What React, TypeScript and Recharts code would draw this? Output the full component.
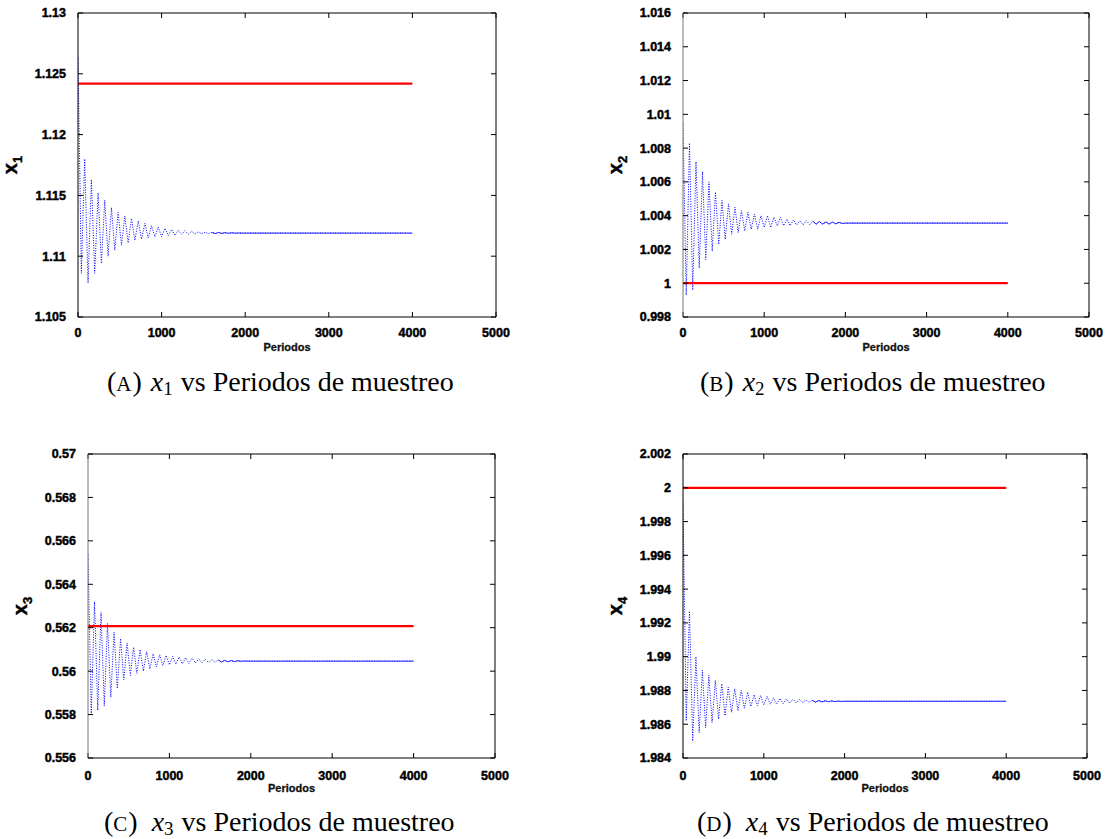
import { LineChart, Line, XAxis, YAxis, Label } from 'recharts';

const periods = [
  0, 40, 80, 120, 160, 200, 240, 280, 320, 360,
  400, 440, 480, 520, 560, 600, 640, 680, 720, 760,
  800, 840, 880, 920, 960, 1000, 1040, 1080, 1120, 1160,
  1200, 1240, 1280, 1320, 1360, 1400, 1440, 1480, 1520, 1560,
  1600, 1640, 1680, 1720, 1760, 1800, 1840, 1880, 1920, 1960,
  2000, 4000,
];

const x1Values = [
  1.1265, 1.1086, 1.118, 1.1078, 1.1163, 1.1086, 1.1152, 1.1094, 1.1146, 1.11,
  1.114, 1.1105, 1.1136, 1.1109, 1.1133, 1.1111, 1.1131, 1.1113, 1.1129, 1.1114,
  1.1127, 1.1115, 1.1125, 1.1116, 1.1124, 1.1116, 1.1123, 1.1117, 1.1122, 1.1117,
  1.11215, 1.1118, 1.1121, 1.1118, 1.11205, 1.11182, 1.112, 1.11184, 1.11198, 1.11185,
  1.11196, 1.11186, 1.11195, 1.11187, 1.11194, 1.11188, 1.11193, 1.11189, 1.11191, 1.1119,
  1.1119, 1.1119,
];

const x2Values = [
  1.0095, 0.9993, 1.0083, 0.9996, 1.0072, 1.0009, 1.0066, 1.0014, 1.006, 1.0019,
  1.0054, 1.0023, 1.0049, 1.0026, 1.0047, 1.0029, 1.0045, 1.003, 1.0043, 1.0031,
  1.0042, 1.0032, 1.0041, 1.0032, 1.004, 1.0033, 1.004, 1.0033, 1.0039, 1.0034,
  1.0039, 1.0034, 1.0038, 1.0034, 1.00375, 1.00345, 1.0037, 1.00345, 1.0037, 1.00347,
  1.00367, 1.0035, 1.00365, 1.0035, 1.00363, 1.0035, 1.00362, 1.00352, 1.0036, 1.00354,
  1.00356, 1.00356,
];

const x3Values = [
  0.5654, 0.558, 0.5632, 0.5582, 0.5627, 0.5584, 0.5622, 0.5588, 0.5618, 0.5592,
  0.5615, 0.5596, 0.5613, 0.5598, 0.5611, 0.5599, 0.561, 0.56, 0.5609, 0.5601,
  0.5608, 0.5602, 0.56075, 0.56026, 0.56072, 0.56029, 0.56068, 0.56032, 0.56065, 0.56034,
  0.56062, 0.56036, 0.5606, 0.56038, 0.56057, 0.56039, 0.56055, 0.5604, 0.56053, 0.56041,
  0.56052, 0.56042, 0.5605, 0.56043, 0.56049, 0.56044, 0.56048, 0.56045, 0.56047, 0.56046,
  0.56046, 0.56046,
];

const x4Values = [
  1.9992, 1.9862, 1.9927, 1.985, 1.99, 1.9855, 1.9892, 1.9858, 1.9889, 1.9861,
  1.9886, 1.9863, 1.9884, 1.9865, 1.9882, 1.9867, 1.9881, 1.9868, 1.988, 1.98695,
  1.9879, 1.98705, 1.98775, 1.9871, 1.9877, 1.98715, 1.98765, 1.98718, 1.98756, 1.9872,
  1.98753, 1.98722, 1.9875, 1.98725, 1.98748, 1.98727, 1.98746, 1.98728, 1.98743, 1.9873,
  1.98742, 1.98731, 1.9874, 1.98732, 1.98739, 1.98733, 1.98738, 1.98734, 1.98737, 1.98735,
  1.98736, 1.98736,
];

// reference (setpoint) levels, drawn over 0..4000
const refSpan = [0, 4000];
const x1Ref = 1.1242;
const x2Ref = 1;
const x3Ref = 0.56207;
const x4Ref = 2;

const periodTicks = [0, 1000, 2000, 3000, 4000, 5000];
const x1Ticks = [1.105, 1.11, 1.115, 1.12, 1.125, 1.13];
const x2Ticks = [0.998, 1, 1.002, 1.004, 1.006, 1.008, 1.01, 1.012, 1.014, 1.016];
const x3Ticks = [0.556, 0.558, 0.56, 0.562, 0.564, 0.566, 0.568, 0.57];
const x4Ticks = [1.984, 1.986, 1.988, 1.99, 1.992, 1.994, 1.996, 1.998, 2, 2.002];

// the oscillation has died out from here on; drawn as a plain line like the original
const settledFrom = 40;

const SANS = '"Liberation Sans", Arial, Helvetica, sans-serif';
const SERIF = '"Liberation Serif", "Times New Roman", serif';
const tickFont = {
  fill: '#000',
  stroke: '#000',
  strokeWidth: 0.45,
  fontSize: 12.5,
  fontWeight: 700,
  fontFamily: SANS,
};
const noLabel = () => <g />;

type PanelProps = {
  left: number;
  top: number;
  plotW: number;
  plotH: number;
  values: number[];
  refValue: number;
  yTicks: number[];
  idx: string;
  xTickGap: number;
  leftAxisColor: string;
};

function Panel({ left, top, plotW, plotH, values, refValue, yTicks, idx, xTickGap, leftAxisColor }: PanelProps) {
  const rows = periods.map((p, i) => ({ p, v: values[i] }));
  const tailRows = rows.slice(settledFrom);
  const refRows = refSpan.map((p) => ({ p, v: refValue }));
  const domain: [number, number] = [yTicks[0], yTicks[yTicks.length - 1]];
  const yAxisW = 78;
  const mTop = 10;
  const mRight = 22;
  const xAxisH = 40;

  return (
    <div style={{ position: 'absolute', left, top }}>
      <LineChart
        width={yAxisW + plotW + mRight}
        height={mTop + plotH + xAxisH}
        margin={{ top: mTop, right: mRight, bottom: 0, left: 0 }}
      >
        <XAxis
          xAxisId="main"
          dataKey="p"
          type="number"
          domain={[0, 5000]}
          ticks={periodTicks}
          allowDataOverflow
          tickLine={false}
          tickMargin={xTickGap}
          axisLine={{ stroke: '#000', strokeWidth: 1 }}
          tick={tickFont}
          height={xAxisH}
        >
          <Label
            content={({ viewBox }: any) => (
              <text
                x={viewBox.x + viewBox.width / 2}
                y={viewBox.y + 30}
                textAnchor="middle"
                dominantBaseline="central"
                fontFamily={SANS}
                fontWeight={700}
                fontSize={11}
                fill="#111"
                stroke="#111"
                strokeWidth={0.3}
              >
                Periodos
              </text>
            )}
          />
        </XAxis>
        <XAxis
          xAxisId="btm"
          dataKey="p"
          type="number"
          orientation="bottom"
          mirror
          domain={[0, 5000]}
          ticks={periodTicks}
          allowDataOverflow
          tick={noLabel}
          tickSize={5}
          tickLine={{ stroke: '#000', strokeWidth: 1 }}
          axisLine={false}
        />
        <XAxis
          xAxisId="top"
          dataKey="p"
          type="number"
          orientation="top"
          mirror
          domain={[0, 5000]}
          ticks={periodTicks}
          allowDataOverflow
          tick={noLabel}
          tickSize={5}
          tickLine={{ stroke: '#000', strokeWidth: 1 }}
          axisLine={{ stroke: '#000', strokeWidth: 1 }}
        />
        <YAxis
          yAxisId="main"
          type="number"
          domain={domain}
          ticks={yTicks}
          allowDataOverflow
          tickLine={false}
          tickMargin={6}
          tickFormatter={(v: number) => String(v)}
          axisLine={{ stroke: leftAxisColor, strokeWidth: 1 }}
          tick={tickFont}
          width={yAxisW}
        >
          <Label
            content={({ viewBox }: any) => (
              <text
                transform={`translate(${viewBox.x + 17},${viewBox.y + viewBox.height / 2}) rotate(-90)`}
                textAnchor="middle"
                fontFamily={SANS}
                fontWeight={700}
                fill="#000"
                stroke="#000"
                strokeWidth={0.4}
              >
                <tspan fontSize={20}>x</tspan>
                <tspan fontSize={13} dy={5}>{idx}</tspan>
              </text>
            )}
          />
        </YAxis>
        <YAxis
          yAxisId="lft"
          type="number"
          orientation="left"
          mirror
          domain={domain}
          ticks={yTicks}
          allowDataOverflow
          tick={noLabel}
          tickSize={5}
          tickLine={{ stroke: '#000', strokeWidth: 1 }}
          axisLine={false}
        />
        <YAxis
          yAxisId="rgt"
          type="number"
          orientation="right"
          mirror
          domain={domain}
          ticks={yTicks}
          allowDataOverflow
          tick={noLabel}
          tickSize={5}
          tickLine={{ stroke: '#000', strokeWidth: 1 }}
          axisLine={{ stroke: '#000', strokeWidth: 1 }}
        />
        <Line
          xAxisId="main"
          yAxisId="main"
          data={rows}
          dataKey="v"
          type="linear"
          stroke="#0000ff"
          strokeWidth={1}
          strokeDasharray="1 1.5"
          dot={false}
          activeDot={false}
          isAnimationActive={false}
        />
        <Line
          xAxisId="main"
          yAxisId="main"
          data={tailRows}
          dataKey="v"
          type="linear"
          stroke="#2a2aff"
          strokeWidth={1}
          dot={false}
          activeDot={false}
          isAnimationActive={false}
        />
        <Line
          xAxisId="main"
          yAxisId="main"
          data={refRows}
          dataKey="v"
          type="linear"
          stroke="#ff0000"
          strokeWidth={2.2}
          dot={false}
          activeDot={false}
          isAnimationActive={false}
        />
      </LineChart>
    </div>
  );
}

function Caption({ x, baseline, letter, idx, gap }: { x: number; baseline: number; letter: string; idx: string; gap: number }) {
  return (
    <div
      style={{
        position: 'absolute',
        left: x,
        top: baseline - 23,
        display: 'flex',
        alignItems: 'baseline',
        fontFamily: SERIF,
        fontSize: 28,
        lineHeight: '28px',
        color: '#000',
        whiteSpace: 'pre',
      }}
    >
      <span>
        (<span style={{ fontSize: 21, letterSpacing: 1 }}>{letter}</span>)
      </span>
      <span style={{ marginLeft: gap }}>
        <i>x</i>
        <span style={{ fontSize: 19, position: 'relative', top: 4 }}>{idx}</span>
      </span>
      <span style={{ marginLeft: 8 }}>vs Periodos de muestreo</span>
    </div>
  );
}

export default function App() {
  return (
    <div style={{ position: 'absolute', left: 0, top: 0, width: 1112, height: 839, background: '#fff' }}>
      <Panel left={0} top={3} plotW={418} plotH={304} values={x1Values} refValue={x1Ref} yTicks={x1Ticks} idx="1" xTickGap={5} leftAxisColor="#000" />
      <Panel left={605} top={3} plotW={406} plotH={304} values={x2Values} refValue={x2Ref} yTicks={x2Ticks} idx="2" xTickGap={5} leftAxisColor="#777" />
      <Panel left={10} top={444} plotW={407} plotH={304} values={x3Values} refValue={x3Ref} yTicks={x3Ticks} idx="3" xTickGap={7} leftAxisColor="#777" />
      <Panel left={605} top={444} plotW={404} plotH={304} values={x4Values} refValue={x4Ref} yTicks={x4Ticks} idx="4" xTickGap={7} leftAxisColor="#000" />
      <Caption x={107} baseline={391} letter="A" idx="1" gap={9} />
      <Caption x={700} baseline={391} letter="B" idx="2" gap={9} />
      <Caption x={104} baseline={831} letter="C" idx="3" gap={14} />
      <Caption x={697} baseline={831} letter="D" idx="4" gap={14} />
    </div>
  );
}
